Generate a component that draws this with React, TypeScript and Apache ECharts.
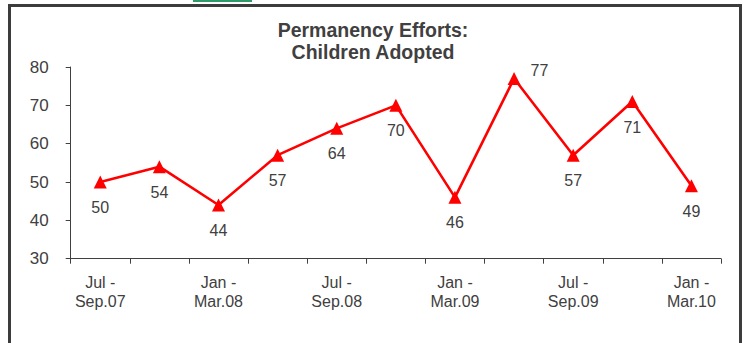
import React, { useEffect, useRef } from "react";
import * as echarts from "echarts";

const categories = [
  "Jul - Sep.07",
  "Oct - Dec.07",
  "Jan - Mar.08",
  "Apr - Jun.08",
  "Jul - Sep.08",
  "Oct - Dec.08",
  "Jan - Mar.09",
  "Apr - Jun.09",
  "Jul - Sep.09",
  "Oct - Dec.09",
  "Jan - Mar.10",
];
const adopted = [50, 54, 44, 57, 64, 70, 46, 77, 57, 71, 49];
const titleLines = ["Permanency Efforts:", "Children Adopted"];
const yMin = 30;
const yMax = 80;
const yStep = 10;

const FONT = "'Liberation Sans', Arial, sans-serif";
const TEXT = "#404040";

export default function App() {
  const ref = useRef<HTMLDivElement>(null);
  useEffect(() => {
    if (!ref.current) return;
    const chart = echarts.init(ref.current, null, { renderer: "svg" });
    const peakIndex = adopted.indexOf(Math.max(...adopted));
    chart.setOption({
      animation: false,
      backgroundColor: "#ffffff",
      title: {
        text: titleLines.join("\n"),
        left: "center",
        top: 19,
        padding: 0,
        textStyle: {
          fontFamily: FONT,
          fontSize: 19.5,
          fontWeight: "bold",
          color: TEXT,
          lineHeight: 22,
        },
      },
      graphic: [
        {
          type: "rect",
          shape: { x: 9.5, y: 5.5, width: 731, height: 400 },
          style: { fill: "none", stroke: "#3c3c3c", lineWidth: 3 },
          silent: true,
        },
        {
          type: "rect",
          shape: { x: 193, y: 0, width: 59, height: 2 },
          style: { fill: "#2e9a68" },
          silent: true,
        },
      ],
      grid: { left: 70.7, right: 25, top: 67, bottom: 84.3 },
      xAxis: {
        type: "category",
        data: categories,
        boundaryGap: true,
        axisLine: { lineStyle: { color: TEXT, width: 1 } },
        axisTick: { show: true, length: 5, inside: false, interval: 0, lineStyle: { color: TEXT } },
        axisLabel: {
          interval: 1,
          margin: 15,
          fontFamily: FONT,
          fontSize: 16,
          lineHeight: 18.5,
          color: TEXT,
          formatter: (v: string) => v.replace(" - ", " -\n"),
        },
        splitLine: { show: false },
      },
      yAxis: {
        type: "value",
        min: yMin,
        max: yMax,
        interval: yStep,
        axisLine: { show: true, lineStyle: { color: TEXT, width: 1 } },
        axisTick: { show: true, length: 5, lineStyle: { color: TEXT } },
        axisLabel: {
          margin: 22,
          fontFamily: FONT,
          fontSize: 17,
          color: TEXT,
        },
        splitLine: { show: false },
      },
      series: [
        {
          type: "line",
          data: adopted.map((v, i) =>
            i === peakIndex
              ? {
                  value: v,
                  label: { position: "right", distance: 10, offset: [0, -8] },
                }
              : v
          ),
          symbol: "triangle",
          symbolSize: 13,
          lineStyle: { color: "#ff0000", width: 2.6 },
          itemStyle: { color: "#ff0000" },
          label: {
            show: true,
            position: "bottom",
            distance: 11,
            fontFamily: FONT,
            fontSize: 16,
            color: TEXT,
          },
        },
      ],
    });
    return () => chart.dispose();
  }, []);
  return (
    <div
      ref={ref}
      style={{ position: "fixed", left: 0, top: 0, width: 746, height: 343 }}
    />
  );
}
